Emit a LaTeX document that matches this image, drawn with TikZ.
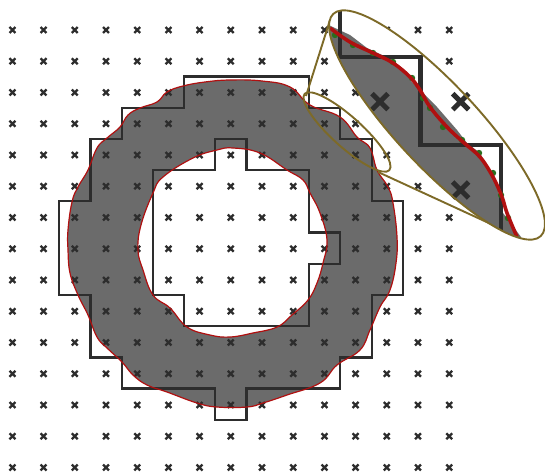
\documentclass[tikz,border=0pt]{standalone}
\usetikzlibrary{shapes.misc}

\definecolor{ringgray}{HTML}{6B6B6B}
\definecolor{stairdark}{HTML}{2D2D2D}
\definecolor{curvered}{HTML}{B01010}
\definecolor{curvegreen}{HTML}{2A6E1E}
\definecolor{lensolive}{HTML}{7D6A28}

\def\outercurve{(230,80) (262,81) (290,87) (310,105) (340,117) (357,137) (370,148) (377,170) (388,187) (393,203) (397,237) (396,263) (390,290) (380,307) (370,330) (360,350) (337,365) (320,383) (287,395) (263,403) (247,407) (217,407) (197,403) (167,392) (147,385) (133,375) (122,362) (107,348) (97,337) (88,315) (78,295) (70,273) (68,250) (68,230) (72,202) (78,187) (88,170) (97,148) (107,138) (120,127) (128,115) (140,108) (157,102) (167,92) (183,86) (205,82)}
\def\innercurve{(233,148) (260,153) (287,170) (303,180) (310,193) (320,213) (327,240) (323,263) (317,283) (308,300) (292,315) (277,327) (253,333) (230,337) (210,335) (187,327) (170,308) (153,295) (143,270) (138,250) (141,225) (153,193) (163,177) (193,158) (217,150)}
\def\lenscurve{(330,28) (350,42) (373,53) (393,63) (410,77) (420,90) (430,107) (447,127) (463,142) (480,157) (493,177) (502,197) (507,213) (517,237)}

\begin{document}
\begin{tikzpicture}[
            x=1pt,
            y=-1pt,
            gridmark/.style={
                cross out,
                draw=stairdark,
                line width=2.3pt,
                minimum size=3.6pt,
                inner sep=0pt
            },
            bigmark/.style={
                cross out,
                draw=stairdark,
                line width=5pt,
                minimum size=11pt,
                inner sep=0pt
            },
            stair/.style={
                draw=stairdark,
                line width=2.3pt,
                line join=miter
            },
            bigstair/.style={
                draw=stairdark,
                line width=4.8pt,
                line join=miter
            },
            lensline/.style={
                draw=lensolive,
                line width=1.9pt
            }
        ]

            \useasboundingbox (0,0) rectangle (545,473);

            % ring
            \fill[ringgray, even odd rule]
                plot[smooth cycle, tension=0.7] coordinates {\outercurve}
                plot[smooth cycle, tension=0.7] coordinates {\innercurve};

            % lattice
            \foreach \i in {0,...,14} {
                \foreach \j in {0,...,14} {
                    \node[gridmark] (m\i-\j) at ({12.4+31.2*\i}, {30+31.25*\j}) {};
                }
            }

            % cell boundaries
            \draw[stair] (184,76.5) -- (309,76.5) -- (309,108) -- (340,108) -- (340,139)
                -- (372,139) -- (372,201) -- (403,201) -- (403,295) -- (372,295)
                -- (372,357.5) -- (340,357.5) -- (340,388.5) -- (246.5,388.5)
                -- (246.5,420) -- (215,420) -- (215,388.5) -- (122,388.5)
                -- (122,357.5) -- (90.5,357.5) -- (90.5,295) -- (59,295) -- (59,201)
                -- (90.5,201) -- (90.5,139) -- (122,139) -- (122,108) -- (184,108) -- cycle;
            \draw[stair] (215,139) -- (246.5,139) -- (246.5,170) -- (309,170) -- (309,232.5)
                -- (340,232.5) -- (340,264) -- (309,264) -- (309,326) -- (184,326)
                -- (184,295) -- (153,295) -- (153,170) -- (215,170) -- cycle;

            % curves
            \draw[curvered, line width=1.2pt]
                plot[smooth cycle, tension=0.7] coordinates {\outercurve}
                plot[smooth cycle, tension=0.7] coordinates {\innercurve};

            % small ellipse and tangents
            \draw[lensline, shift={(347,132)}, rotate=-42] (0,0) ellipse [x radius=57, y radius=15];
            \coordinate (spota) at (306,96);
            \coordinate (spotb) at (378,172);
            \coordinate (lensa) at (330,20);
            \coordinate (lensb) at (517,236);
            \draw[lensline] (spota) -- (lensa);
            \draw[lensline] (spotb) -- (lensb);

            % magnified part
            \fill[white, shift={(437,125)}, rotate=-47] (0,0) ellipse [x radius=152, y radius=41];
            \begin{scope}
                \clip[shift={(437,125)}, rotate=-47] (0,0) ellipse [x radius=152, y radius=41];
                \fill[ringgray] (322,22) -- (350,35) -- (367,48) -- (393,60) -- (413,83)
                    -- (437,107) -- (457,130) -- (467,143) -- (480,153) -- (497,187)
                    -- (503,213) -- (521,237) -- (525,260) -- (300,200) -- (300,22) -- cycle;
                \draw[bigstair] (340,0) -- (340,57) -- (420.5,57) -- (420.5,145) -- (501,145) -- (501,250);
                \foreach \px/\py in {335/35, 353/45, 373/53, 393/62, 412/78, 423/98, 430/108, 443/127, 462/140, 479/153, 493/173, 501/195, 508/218} {
                    \fill[curvegreen] (\px,\py) circle [radius=3.2];
                }
                \draw[curvered, line width=3.6pt]
                    plot[smooth, tension=0.6] coordinates {\lenscurve};
            \end{scope}
            \node[bigmark] (enlarge1) at (380,101.7) {};
            \node[bigmark] (enlarge2) at (460.7,101.7) {};
            \node[bigmark] (enlarge3) at (460.7,190) {};
            \draw[lensline, shift={(437,125)}, rotate=-47] (0,0) ellipse [x radius=152, y radius=41];

        \end{tikzpicture}
\end{document}
